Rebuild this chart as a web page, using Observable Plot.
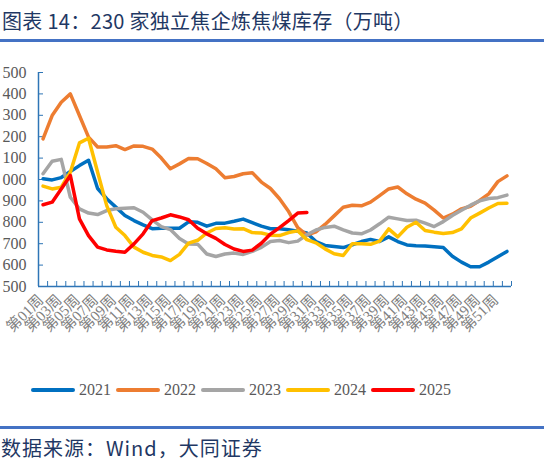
<!DOCTYPE html>
<html>
<head>
<meta charset="utf-8">
<script src="https://cdn.jsdelivr.net/npm/d3@7"></script>
<script src="https://cdn.jsdelivr.net/npm/@observablehq/plot@0.6"></script>
<style>
  body { margin: 0; width: 544px; height: 468px; overflow: hidden; background: #fff; position: relative; }
  #title { position: absolute; left: 2px; top: 6px; font: 20px "Noto Sans CJK SC"; color: #1f3864; white-space: nowrap; letter-spacing: 0.3px; }
  .rule { position: absolute; left: 0; width: 544px; height: 3px; background: #4472c4; }
  #plot { position: absolute; left: 0; top: 50px; }
  #legend { position: absolute; left: 31px; top: 381px; display: flex; align-items: center; }
  #legend .item { display: flex; align-items: center; margin-right: 5px; }
  #legend .swatch { width: 44px; height: 4px; border-radius: 2px; margin-right: 4px; }
  #legend .lab { font: 16px "Liberation Serif"; color: #595959; }
  #source { position: absolute; left: 1px; top: 433px; font: 20px "Noto Sans CJK SC"; color: #1f3864; white-space: nowrap; letter-spacing: 1px; }
</style>
</head>
<body>
<div id="title">图表 14：230 家独立焦企炼焦煤库存（万吨）</div>
<div class="rule" style="top:39px"></div>
<div id="plot"></div>
<div id="legend"></div>
<div class="rule" style="top:426px"></div>
<div id="source">数据来源：Wind，大同证券</div>
<script>
// weeks 1..52, values in 万吨
const weeks = d3.range(1, 53);
const years = ["2021", "2022", "2023", "2024", "2025"];
const colors = ["#0070C0", "#ED7D31", "#A5A5A5", "#FFC000", "#FF0000"];
const yTicks = [500, 600, 700, 800, 900, 1000, 1100, 1200, 1300, 1400, 1500];
const labelWeeks = weeks.filter(w => w % 2 === 1);

const v2021 = [1003, 998, 1009, 1037, 1065, 1090, 958, 910, 871, 832, 808, 788, 770, 772, 772, 772, 802, 800, 782, 795,
  796, 805, 815, 798, 782, 770, 770, 765, 758, 750, 710, 692, 687, 682, 695, 710, 720, 710, 732, 710,
  694, 690, 689, 686, 682, 641, 614, 592, 592, 614, 639, 664];
const v2022 = [1190, 1299, 1361, 1400, 1299, 1198, 1152, 1152, 1158, 1140, 1157, 1155, 1142, 1100, 1050, 1073, 1098, 1097, 1075, 1050,
  1008, 1014, 1027, 1032, 988, 958, 910, 850, 775, 740, 755, 790, 830, 870, 880, 877, 894, 925, 956, 965,
  933, 908, 890, 857, 820, 838, 863, 875, 902, 933, 990, 1017];
const v2023 = [1027, 1085, 1094, 917, 863, 843, 836, 855, 863, 866, 868, 847, 811, 780, 766, 724, 699, 698, 652, 640,
  652, 656, 650, 664, 683, 710, 715, 705, 712, 742, 764, 776, 782, 765, 750, 746, 764, 793, 824, 816,
  808, 810, 796, 780, 803, 832, 856, 880, 900, 911, 915, 927];
const v2024 = [969, 956, 964, 1034, 1171, 1193, 1034, 878, 777, 738, 684, 660, 645, 638, 621, 650, 703, 716, 750, 771,
  775, 769, 770, 752, 750, 740, 738, 752, 760, 719, 704, 676, 653, 645, 700, 700, 697, 712, 769, 732,
  777, 800, 762, 754, 748, 752, 769, 820, 843, 867, 888, 889];
const v2025 = [882, 894, 956, 1019, 816, 738, 684, 671, 665, 660, 699, 746, 808, 820, 835, 825, 812, 772, 746, 725,
  696, 675, 664, 670, 702, 745, 775, 808, 843, 846];

const series = [v2021, v2022, v2023, v2024, v2025];
const rows = series.flatMap((vals, i) => vals.map((v, j) => ({year: years[i], week: weeks[j], value: v})));

const axisBlue = "#2E75B6";
const bounds = d3.range(0.5, 53, 1);

const chart = Plot.plot({
  width: 544,
  height: 300,
  marginTop: 22,
  marginBottom: 64,
  marginLeft: 38,
  marginRight: 33,
  x: {type: "linear", domain: [0.5, 52.5]},
  y: {domain: [500, 1500]},
  color: {domain: years, range: colors},
  marks: [
    // the source image crops the leading "1" of the thousands, so show the last three digits as it does
    Plot.axisY({ticks: yTicks, tickSize: 0, tickPadding: 12, tickFormat: d => String(d).slice(-3), label: null,
      fontSize: 16, fontFamily: "Liberation Serif", fill: "#595959"}),
    Plot.axisY({ticks: yTicks, tickSize: 5, dx: 5, text: null, label: null, stroke: axisBlue}),
    Plot.axisX({ticks: bounds, tickSize: 5, dy: -5, text: null, label: null, stroke: axisBlue}),
    Plot.axisX({ticks: labelWeeks, tickSize: 0, tickPadding: 11, tickRotate: -45, dx: -2, label: null,
      tickFormat: w => `第${String(w).padStart(2, "0")}周`,
      fontSize: 15, fontFamily: "Liberation Serif, Noto Sans CJK SC", fill: "#7f7f7f"}),
    Plot.ruleX([0.5], {stroke: axisBlue, strokeWidth: 1.5}),
    Plot.ruleY([500], {stroke: axisBlue, strokeWidth: 1.5}),
    Plot.line(rows, {x: "week", y: "value", z: "year", stroke: "year", strokeWidth: 3.5, strokeLinejoin: "round"})
  ]
});
document.getElementById("plot").appendChild(chart);

const legend = document.getElementById("legend");
years.forEach((y, i) => {
  const item = document.createElement("div");
  item.className = "item";
  item.innerHTML = `<span class="swatch" style="background:${colors[i]}"></span><span class="lab">${y}</span>`;
  legend.appendChild(item);
});
</script>
</body>
</html>
